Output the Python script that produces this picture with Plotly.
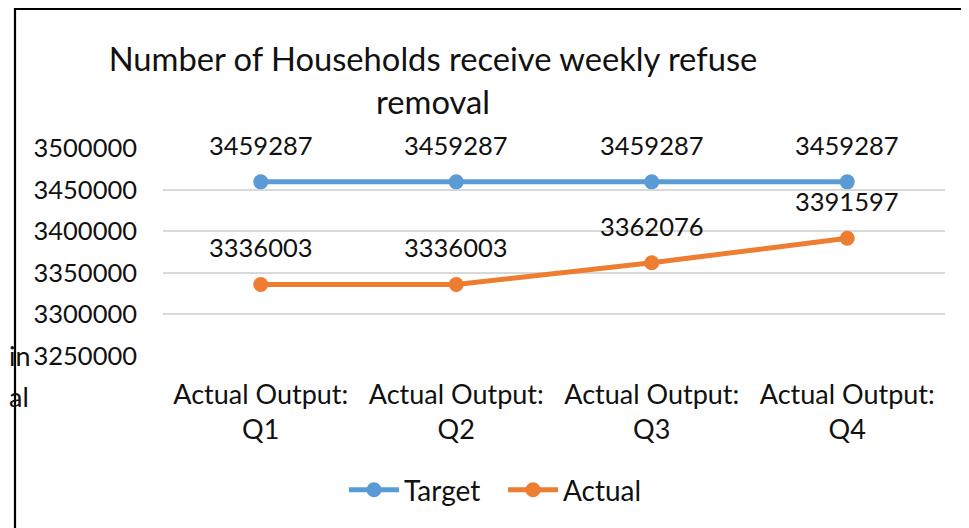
import plotly.graph_objects as go

categories = ["Actual Output:<br>Q1", "Actual Output:<br>Q2", "Actual Output:<br>Q3", "Actual Output:<br>Q4"]
target = [3459287, 3459287, 3459287, 3459287]
actual = [3336003, 3336003, 3362076, 3391597]
y_ticks = [3250000, 3300000, 3350000, 3400000, 3450000, 3500000]

FONT = "Lato"
BLUE = "#5b9bd5"
ORANGE = "#ed7d31"
W, H = 961, 520          # page adds an 8px body margin
PL, PT, PW, PH = 155, 140, 782, 208   # plot area in figure pixels


def px(x):  # figure x pixel -> paper
    return (x - PL) / PW


def py(y):  # figure y pixel -> paper
    return (PT + PH - y) / PH


fig = go.Figure()
fig.add_trace(go.Scatter(x=categories, y=target, name="Target", mode="lines+markers",
                         line=dict(color=BLUE, width=5), marker=dict(size=15, color=BLUE)))
fig.add_trace(go.Scatter(x=categories, y=actual, name="Actual", mode="lines+markers",
                         line=dict(color=ORANGE, width=5), marker=dict(size=15, color=ORANGE)))

for series in (target, actual):
    for c, v in zip(categories, series):
        fig.add_annotation(x=c, y=v, text=str(v), showarrow=False, yshift=37,
                           yanchor="middle", font=dict(family=FONT, size=25.5, color="#111"))

# text fragments of surrounding document at the left edge
fig.add_annotation(xref="paper", yref="paper", x=px(-1), y=py(347),
                   text="in", showarrow=False, xanchor="left", yanchor="middle",
                   font=dict(family=FONT, size=27, color="#111"))
fig.add_annotation(xref="paper", yref="paper", x=px(-1), y=py(388),
                   text="al", showarrow=False, xanchor="left", yanchor="middle",
                   font=dict(family=FONT, size=27, color="#111"))

# border of the chart object
fig.add_shape(type="rect", xref="paper", yref="paper",
              x0=px(7), x1=px(980), y0=py(540), y1=py(1),
              line=dict(color="black", width=2.2), fillcolor="rgba(0,0,0,0)", layer="above")

fig.update_layout(
    width=W, height=H,
    margin=dict(l=PL, r=W - PL - PW, t=PT, b=H - PT - PH, autoexpand=False),
    paper_bgcolor="white", plot_bgcolor="white",
    font=dict(family=FONT, size=25, color="#111"),
    title=dict(text="Number of Households receive weekly refuse<br>removal",
               x=425 / W, xanchor="center", y=1 - 63 / H, yanchor="middle",
               font=dict(family=FONT, size=32.7, color="#111")),
    showlegend=True,
    legend=dict(orientation="h", x=px(336), xanchor="left",
                y=py(482), yanchor="middle", font=dict(family=FONT, size=28, color="#111"),
                itemwidth=50, tracegroupgap=0, entrywidth=94, entrywidthmode="pixels"),
    xaxis=dict(range=[-0.5, 3.5], showgrid=False, showline=False, ticks="",
               tickfont=dict(size=27), ticklabelstandoff=20, automargin=False),
    yaxis=dict(range=[3250000, 3500000], tickvals=y_ticks, ticktext=[str(t) for t in y_ticks],
               showgrid=True, gridcolor="#d9d9d9", gridwidth=1.5, zeroline=False,
               showline=False, ticks="", tickfont=dict(size=25.5), ticklabelstandoff=25,
               automargin=False),
)

fig.write_html("out.html")
